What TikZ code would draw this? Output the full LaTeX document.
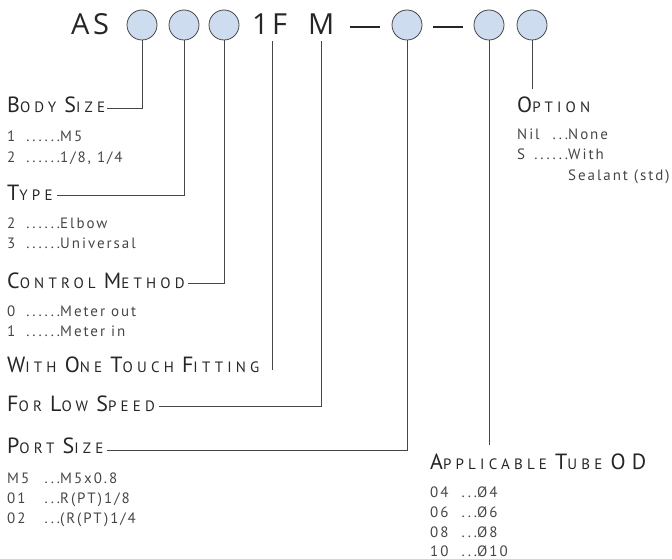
\documentclass[tikz,border=0pt]{standalone}
\usepackage{fontspec}
\usepackage{xcolor}
\usepackage{tikz}
\usetikzlibrary{positioning}

\newfontfamily\labelfont[LetterSpace=13]{PT Sans}
\newfontfamily\titlefont[LetterSpace=28]{PT Sans}
\newfontfamily\codefont[LetterSpace=12]{Open Sans}
\newcommand\capl[1]{{\fontsize{22pt}{22pt}\selectfont #1}}
\newcommand\kv[4][53pt]{\makebox[#1][l]{#2}\llap{#3}#4}

\definecolor{dotblue}{RGB}{206,220,240}
\definecolor{leadgray}{RGB}{70,70,70}
\definecolor{textgray}{RGB}{70,70,70}

\begin{document}
\begin{tikzpicture}[x=1pt, y=-1pt,
    dot/.style={circle, draw=leadgray, line width=0.8pt, fill=dotblue, minimum size=30pt, inner sep=0pt},
    code/.style={anchor=base west, inner sep=0pt, font=\codefont\fontsize{29pt}{29pt}\selectfont, text=black!85},
    title/.style={anchor=base west, inner sep=0pt, font=\titlefont\fontsize{15pt}{15pt}\selectfont, text=black!85},
    entry/.style={anchor=base west, inner sep=0pt, font=\labelfont\fontsize{15pt}{15pt}\selectfont, text=textgray},
    lead/.style={draw=leadgray, line width=0.9pt},
    bar/.style={line width=2pt, black!85}
  ]
    \useasboundingbox (0,0) rectangle (672,559);

    % model code
    \node[code] (as) at (71,35) {AS};
    \node[dot] (c1) at (142,25) {};
    \node[dot] (c2) at (184,25) {};
    \node[dot] (c3) at (224,25) {};
    \node[code] (onef) at (252,35) {1F};
    \node[code] (mcode) at (308,35) {M};
    \draw[bar] (350,27) -- (380,27);
    \node[dot] (c4) at (407,25) {};
    \draw[bar] (433,27) -- (463,27);
    \node[dot] (c5) at (489,25) {};
    \node[dot] (c6) at (532,25) {};
    \coordinate (ftop) at (272,41);

    % left column
    \node[title] (body) at (7,113) {\capl{B}ODY \capl{S}IZE};
    \node[entry] (bs1) at (7,142) {\kv{1}{......}{M5}};
    \node[entry] (bs2) at (7,162) {\kv{2}{......}{1/8, 1/4}};

    \node[title] (type) at (7,200) {\capl{T}YPE};
    \node[entry] (ty2) at (7,228) {\kv{2}{......}{Elbow}};
    \node[entry] (ty3) at (7,248) {\kv{3}{......}{Universal}};

    \node[title] (ctrl) at (7,288) {\capl{C}ONTROL \capl{M}ETHOD};
    \node[entry] (cm0) at (7,316) {\kv{0}{......}{Meter out}};
    \node[entry] (cm1) at (7,336) {\kv{1}{......}{Meter in}};

    \node[title] (touch) at (7,372) {\capl{W}ITH \capl{O}NE \capl{T}OUCH \capl{F}ITTING};
    \node[title] (speed) at (7,411) {\capl{F}OR \capl{L}OW \capl{S}PEED};

    \node[title] (port) at (7,453) {\capl{P}ORT \capl{S}IZE};
    \node[entry] (psm5) at (7,483) {\kv{M5}{...}{M5x0.8}};
    \node[entry] (ps01) at (7,503) {\kv{01}{...}{R(PT)1/8}};
    \node[entry] (ps02) at (7,523) {\kv{02}{...}{(R(PT)1/4}};

    % right column
    \node[title] (option) at (517,113) {\capl{O}PTION};
    \node[entry] (opnil) at (517,140) {\kv[51pt]{Nil}{...}{None}};
    \node[entry] (ops) at (517,160) {\kv[51pt]{S}{......}{With}};
    \node[entry] (opstd) at (568,180) {Sealant (std)};

    \node[title] (tube) at (430,469) {\capl{A}PPLICABLE \capl{T}UBE \capl{OD}};
    \node[entry] (od04) at (430,497) {\kv[47pt]{04}{...}{Ø4}};
    \node[entry] (od06) at (430,517) {\kv[47pt]{06}{...}{Ø6}};
    \node[entry] (od08) at (430,537) {\kv[47pt]{08}{...}{Ø8}};
    \node[entry] (od10) at (430,556) {\kv[47pt]{10}{...}{Ø10}};

    % leader lines
    \draw[lead] (c1) |- ([shift={(2pt,5pt)}]body.base east);
    \draw[lead] (c2) |- ([shift={(4pt,5pt)}]type.base east);
    \draw[lead] (c3) |- ([shift={(3pt,5pt)}]ctrl.base east);
    \draw[lead] (ftop) -- (ftop |- touch.mid);
    \draw[lead] ([yshift=-6pt]mcode.south) |- ([shift={(4pt,5pt)}]speed.base east);
    \draw[lead] (c4) |- ([shift={(3pt,3pt)}]port.base east);
    \draw[lead] (c5) -- ([yshift=8pt]tube.north -| c5);
    \draw[lead] (c6) -- ([yshift=8pt]option.north -| c6);
  \end{tikzpicture}
\end{document}
